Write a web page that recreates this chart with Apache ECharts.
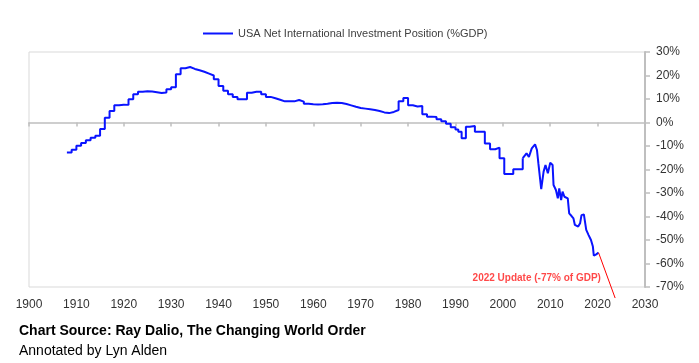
<!DOCTYPE html>
<html>
<head>
<meta charset="utf-8">
<script src="https://cdn.jsdelivr.net/npm/echarts@6/dist/echarts.min.js"></script>
<style>html,body{margin:0;padding:0;background:#fff}#c{width:699px;height:363px}</style>
</head>
<body>
<div id="c"></div>
<script>
const seriesName = 'USA Net International Investment Position (%GDP)';
const years = [1908,1909,1910,1911,1912,1913,1914,1915,1916,1917,1918,1919,1920,1921,1922,1923,1924,1925,1926,1927,1928,1929,1930,1931,1932,1933,1934,1935,1936,1937,1938,1939,1940,1941,1942,1943,1944,1945,1946,1947,1948,1949,1950,1951,1952,1953,1954,1955,1956,1957,1958,1959,1960,1961,1962,1963,1964,1965,1966,1967,1968,1969,1970,1971,1972,1973,1974,1975,1976,1977,1978,1979,1980,1981,1982,1983,1984,1985,1986,1987,1988,1989,1990,1990.6,1991.3,1992.2,1993,1994.1,1996.2,1997.3,1998.4,1999.3,2000.3,2002.2,2004.2,2005,2005.5,2006.1,2006.8,2007.2,2007.5,2008.1,2008.6,2009,2009.5,2010,2010.5,2010.7,2011.2,2011.6,2011.9,2012.3,2012.6,2013,2013.7,2014,2014.5,2014.9,2015.2,2015.9,2016.3,2016.6,2017.1,2017.6,2018.1,2018.6,2019,2019.2,2019.7,2020.2];
const values = [-12.8,-11.6,-9.9,-8.7,-7.6,-6.5,-5.6,-2.8,2.0,4.9,7.3,7.6,7.5,9.9,12.0,13.1,13.3,13.2,12.9,12.6,12.8,14.1,15.0,20.5,23.1,23.6,22.8,22.2,21.6,20.8,20.0,18.4,15.5,13.5,12.0,10.9,9.9,9.9,12.7,13.1,13.1,12.0,10.9,10.3,9.7,9.0,9.0,9.0,9.6,8.9,8.0,7.8,7.7,7.8,8.0,8.3,8.4,8.3,7.9,7.3,6.7,6.2,5.9,5.6,5.3,4.9,4.3,4.0,4.5,5.3,9.0,10.4,7.3,6.8,7.0,3.5,2.5,2.3,1.4,0.5,-0.5,-2.0,-3.0,-3.9,-6.7,-1.8,-1.5,-3.9,-8.9,-11.4,-10.7,-15.2,-21.9,-19.9,-15.2,-13.1,-14.7,-11.0,-9.3,-11.7,-17.4,-28.4,-20.9,-18.1,-21.6,-17.1,-18.1,-26.6,-28.7,-32.3,-28.0,-33.0,-29.4,-31.6,-32.3,-38.7,-39.8,-40.8,-43.6,-44.3,-42.9,-39.4,-39.1,-45.7,-47.9,-50.0,-52.8,-56.7,-56.1,-55.4];
const stepUntilYear = 2004.2; // annual (stepped) records up to here, quarterly after
const annoYears = [2020.2, 2023.7];
const annoValues = [-55.4, -74.7];
const annoText = '2022 Update (-77% of GDP)';
const annoTextPos = [2020.7, -66.2];
const xTicks = {min: 1900, max: 2030, step: 10};
const yTicks = {min: -70, max: 30, step: 10};
const footer1 = 'Chart Source: Ray Dalio, The Changing World Order';
const footer2 = 'Annotated by Lyn Alden';

const chart = echarts.init(document.getElementById('c'), null, {renderer: 'canvas'});
const allData = years.map((y, i) => [y, values[i]]);
const stepData = allData.filter(d => d[0] <= stepUntilYear);
const lineData = allData.filter(d => d[0] >= stepUntilYear);
const annoData = annoYears.map((y, i) => [y, annoValues[i]]);
const font = '"Liberation Sans", Arial, sans-serif';
const blue = '#0a14ff';

chart.setOption({
  animation: false,
  backgroundColor: '#fff',
  grid: {left: 29, right: 54, top: 52, bottom: 76, show: true, borderColor: '#d9d9d9', borderWidth: 1},
  legend: {
    data: [seriesName], left: 198, top: 23, itemWidth: 30, itemHeight: 2, itemGap: 5,
    icon: 'rect',
    textStyle: {fontSize: 11, color: '#404040', fontFamily: font}
  },
  xAxis: [{
    type: 'value', min: xTicks.min, max: xTicks.max, interval: xTicks.step,
    axisLine: {show: false, onZero: false}, axisTick: {show: false}, splitLine: {show: false},
    axisLabel: {color: '#333', fontSize: 12, margin: 12, fontFamily: font, formatter: v => String(v)}
  }, {
    type: 'value', min: xTicks.min, max: xTicks.max, interval: xTicks.step, position: 'bottom',
    axisLine: {show: true, onZero: true, lineStyle: {color: '#bfbfbf', width: 1.5}},
    axisTick: {show: true, length: 4, lineStyle: {color: '#bfbfbf', width: 1.5}},
    axisLabel: {show: false}, splitLine: {show: false}
  }],
  yAxis: {
    type: 'value', position: 'right', min: yTicks.min, max: yTicks.max, interval: yTicks.step,
    axisLine: {show: true, lineStyle: {color: '#bfbfbf', width: 2}},
    axisTick: {show: true, length: 5, lineStyle: {color: '#bfbfbf', width: 1.5}},
    splitLine: {show: false},
    axisLabel: {formatter: '{value}%', color: '#333', fontSize: 12, margin: 11, fontFamily: font}
  },
  series: [{
    name: seriesName, type: 'line', step: 'end', data: stepData, showSymbol: false,
    lineStyle: {color: blue, width: 2}, itemStyle: {color: blue}
  }, {
    name: seriesName, type: 'line', data: lineData, showSymbol: false,
    lineStyle: {color: blue, width: 2}, itemStyle: {color: blue}
  }, {
    name: 'anno', type: 'line', data: annoData, showSymbol: false, clip: false,
    lineStyle: {color: '#ff0000', width: 1}, silent: true
  }, {
    name: 'annoText', type: 'scatter', data: [annoTextPos], symbolSize: 0, silent: true,
    label: {show: true, position: 'left', distance: 0, formatter: annoText, color: '#ff1a1a', fontWeight: 'bold', fontSize: 10, fontFamily: font}
  }],
  graphic: [
    {type: 'text', left: 19, top: 324, style: {text: footer1, font: 'bold 14px ' + font, fill: '#000'}},
    {type: 'text', left: 19, top: 344, style: {text: footer2, font: '14px ' + font, fill: '#000'}}
  ]
});
</script>
</body>
</html>
